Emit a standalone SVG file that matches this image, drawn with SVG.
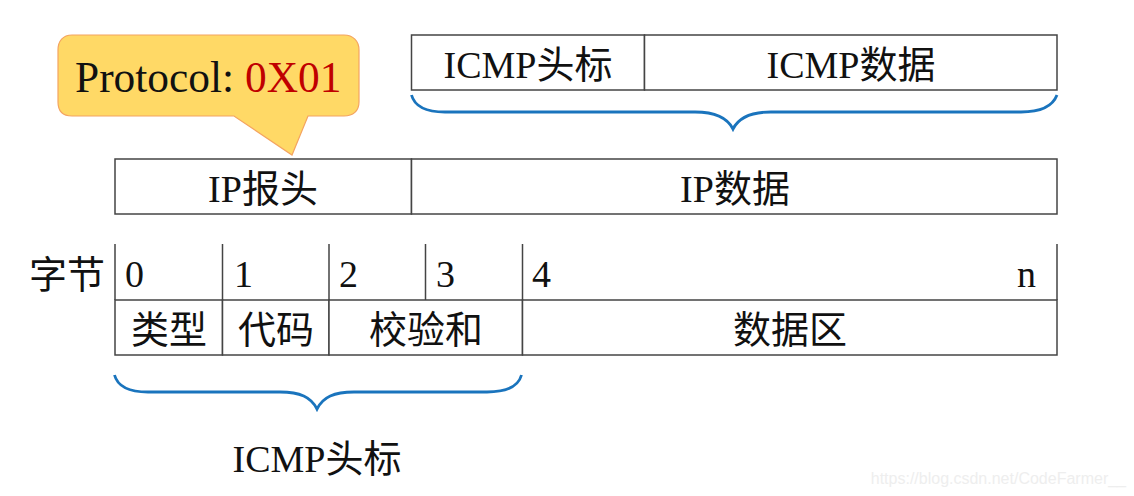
<svg xmlns="http://www.w3.org/2000/svg" width="1134" height="496" viewBox="0 0 1134 496">
<style>
.b{fill:#fff;stroke:#444;stroke-width:1.5}
.l{stroke:#444;stroke-width:1.5;fill:none}
.t{font-family:"Liberation Serif","Noto Sans CJK SC",serif;font-size:38px;fill:#111;text-anchor:middle}
.n{text-anchor:start}
.br{fill:none;stroke:#1a74bd;stroke-width:2.800}
</style>
<rect width="1134" height="496" fill="#fff"/>
<g id="connectors">
<path class="br" d="M411.500 95C415 108 428 112 445 112H695C715 112 727 117 733 129C739 117 751 112 771 112H1021C1038 112 1052 108 1057 95"/>
<path class="br" d="M114.500 375C118 388 131 392 148 392H280C300 392 311 397 317 409C323 397 334 392 354 392H487C504 392 518 388 521.500 375"/>
</g>
<g id="callout">
<path d="M72 35H344C353 35 359 41 359 50V102C359 111 353 116 344 116H308L292 155L234 116H72C63 116 58 111 58 102V50C58 41 63 35 72 35Z" fill="#ffd966" stroke="#f4a460" stroke-width="1.200"/>
<text class="t n" x="75" y="92" style="font-size:43.400px">Protocol: <tspan fill="#c00000">0X01</tspan></text>
</g>
<g id="icmp-header-top">
<rect class="b" x="411.500" y="35" width="233" height="55"/>
<text class="t" x="528" y="78">ICMP头标</text>
</g>
<g id="icmp-data-top">
<rect class="b" x="644.500" y="35" width="412.500" height="55"/>
<text class="t" x="851" y="78">ICMP数据</text>
</g>
<g id="ip-header">
<rect class="b" x="115" y="159" width="296.500" height="55"/>
<text class="t" x="263" y="202">IP报头</text>
</g>
<g id="ip-data">
<rect class="b" x="411.500" y="159" width="645.500" height="55"/>
<text class="t" x="735" y="202">IP数据</text>
</g>
<g id="byte-label">
<text class="t" x="67" y="288">字节</text>
</g>
<g id="byte-ruler">
<path class="l" d="M115 244V300M222.500 244V300M329 244V300M425.500 244V300M522.500 244V300M1057 244V300"/>
<text class="t n" x="125" y="287">0</text>
<text class="t n" x="234" y="287">1</text>
<text class="t n" x="339" y="287">2</text>
<text class="t n" x="436" y="287">3</text>
<text class="t n" x="532" y="287">4</text>
<text class="t n" x="1017" y="287">n</text>
</g>
<g id="field-type">
<rect class="b" x="115" y="300" width="107.500" height="55"/>
<text class="t" x="169" y="343">类型</text>
</g>
<g id="field-code">
<rect class="b" x="222.500" y="300" width="106.500" height="55"/>
<text class="t" x="276" y="343">代码</text>
</g>
<g id="field-checksum">
<rect class="b" x="329" y="300" width="193.500" height="55"/>
<text class="t" x="426" y="343">校验和</text>
</g>
<g id="field-data">
<rect class="b" x="522.500" y="300" width="534.500" height="55"/>
<text class="t" x="790" y="343">数据区</text>
</g>
<g id="icmp-header-label">
<text class="t" x="317" y="472">ICMP头标</text>
</g>
<text x="1126" y="484" text-anchor="end" font-family="'Liberation Sans',sans-serif" font-size="16" fill="#eeeeee">https://blog.csdn.net/CodeFarmer__</text>
</svg>
